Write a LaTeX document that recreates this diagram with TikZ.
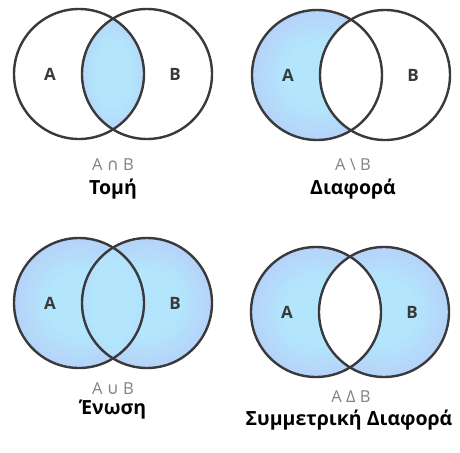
\documentclass[tikz,border=0pt]{standalone}
\usepackage{fontspec}
\setmainfont{Open Sans}
\newfontfamily\symfont{DejaVu Sans}
\definecolor{venncyan}{HTML}{B3E6FC}
\definecolor{vennlilac}{HTML}{B9B7F4}
\definecolor{vennline}{HTML}{3A3A3C}
\definecolor{opgray}{HTML}{828282}
\pgfdeclareradialshading{vennglow}{\pgfpoint{0bp}{0bp}}{color(0bp)=(venncyan);color(12bp)=(venncyan);color(43bp)=(vennlilac);color(50bp)=(vennlilac)}

\begin{document}
\begin{tikzpicture}[
  x=1pt,
  y=-1pt,
  setline/.style={draw=vennline,line width=2.4pt},
  setfill/.style={shading=vennglow},
  setname/.style={font=\bfseries\fontsize{17}{17}\selectfont,text=vennline},
  opname/.style={font=\fontsize{16.5}{16.5}\selectfont,text=opgray},
  caption/.style={font=\bfseries\fontsize{19.5}{21}\selectfont,text=black}
]
  \newcommand{\setcentres}[3]{%
    \coordinate (#1A) at (#2,#3);
    \coordinate (#1B) at (#2+68,#3);
    \coordinate (#1lens) at (#2+34,#3);
  }
  \newcommand{\setoutline}[1]{%
    \draw[setline] (#1A) circle[radius=65pt];
    \draw[setline] (#1B) circle[radius=65pt];
    \path (#1A) ++(-29,0) node[setname] (#1nA) {A};
    \path (#1B) ++(28,0) node[setname] (#1nB) {B};
  }
  \useasboundingbox (0,0) rectangle (460,452);

  % Intersection.
  \setcentres{tl}{79}{74}
  \begin{scope}
    \clip (tlA) circle[radius=65pt];
    \clip (tlB) circle[radius=65pt];
    \shade[setfill] (tllens) ellipse[x radius=36pt,y radius=65pt];
  \end{scope}
  \setoutline{tl}
  \node[opname] (tlop) at (113,165) {A {\symfont∩} B};
  \node[caption] (tlcap) at (113,189) {Τομή};

  % Difference.
  \setcentres{tr}{317}{75}
  \shade[setfill] (trA) circle[radius=65pt];
  \begin{scope}
    \clip (trA) circle[radius=65pt];
    \fill[white] (trB) circle[radius=65pt];
  \end{scope}
  \setoutline{tr}
  \node[opname] (trop) at (353,165) {A \textbackslash{} B};
  \node[caption] (trcap) at (353,189) {Διαφορά};

  % Union.
  \setcentres{bl}{79}{303}
  \shade[setfill] (blA) circle[radius=65pt];
  \shade[setfill] (blB) circle[radius=65pt];
  \begin{scope}
    \clip (blA) circle[radius=65pt];
    \clip (blB) circle[radius=65pt];
    \shade[setfill] (bllens) ellipse[x radius=44pt,y radius=80pt];
  \end{scope}
  \setoutline{bl}
  \node[opname] (blop) at (113,389) {A {\symfont∪} B};
  \node[caption] (blcap) at (113,410) {Ένωση};

  % Symmetric difference.
  \setcentres{br}{316}{312}
  \shade[setfill] (brA) circle[radius=65pt];
  \shade[setfill] (brB) circle[radius=65pt];
  \begin{scope}
    \clip (brA) circle[radius=65pt];
    \fill[white] (brB) circle[radius=65pt];
  \end{scope}
  \setoutline{br}
  \node[opname] (brop) at (351,397) {A Δ B};
  \node[caption] (brcap) at (349,420) {Συμμετρική Διαφορά};
\end{tikzpicture}
\end{document}
